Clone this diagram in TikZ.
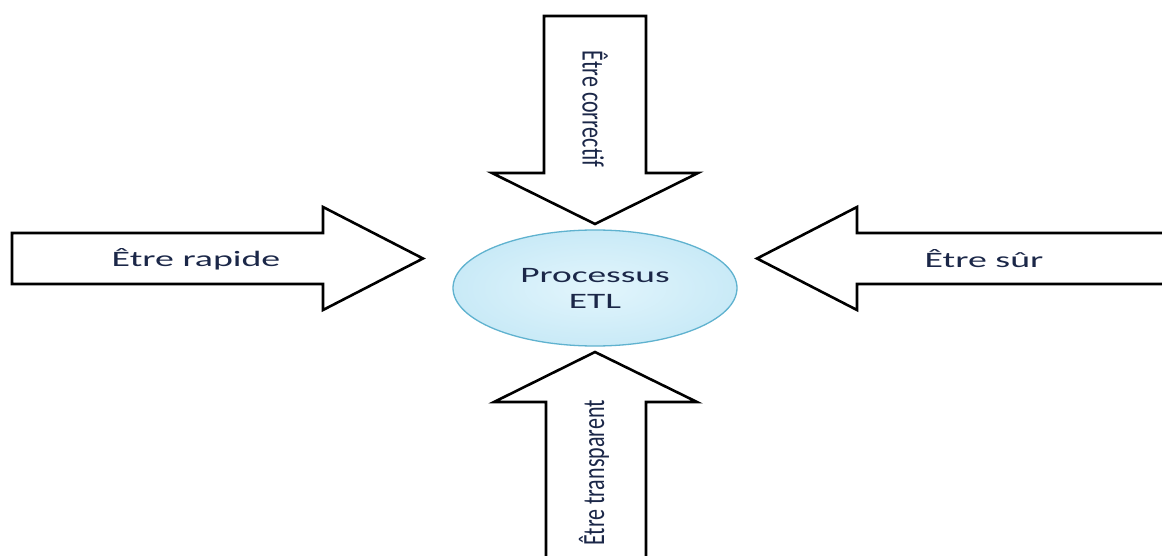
\documentclass[tikz,border=0pt]{standalone}
\usepackage{fontspec}
\setmainfont{Carlito}
\usetikzlibrary{shapes.geometric}
\definecolor{labelink}{HTML}{1B2748}
\definecolor{etlfill}{HTML}{C9EAF7}
\definecolor{etlfilllight}{HTML}{E2F5FC}
\definecolor{etlborder}{HTML}{5FB2CF}
\tikzset{
  bigarrow/.style={draw=black, line width=2.6pt, fill=white, line join=miter},
  hlabel/.style={text=labelink, inner sep=0pt, font=\fontsize{22}{27}\selectfont},
  vlabel/.style={text=labelink, inner sep=0pt, font=\fontsize{22}{27}\selectfont},
  processnode/.style={ellipse, draw=etlborder, line width=1.3pt,
    inner color=etlfilllight, outer color=etlfill,
    minimum width=284pt, minimum height=116pt, inner sep=0pt,
    text=labelink, align=center, font=\fontsize{22}{27}\selectfont}
}
\begin{document}
\begin{tikzpicture}[x=1pt, y=-1pt]
  \useasboundingbox (0,0) rectangle (1162,556);
  \clip (0,0) rectangle (1162,556);
  \fill[white] (0,0) rectangle (1162,556);

  % block arrows pointing at the process
  \draw[bigarrow] (12,233) -- (323,233) -- (323,207) -- (423,258.5)
    -- (323,310) -- (323,284) -- (12,284) -- cycle;
  \draw[bigarrow] (1180,233) -- (857,233) -- (857,207) -- (757,258.5)
    -- (857,310) -- (857,284) -- (1180,284) -- cycle;
  \draw[bigarrow] (544,16) -- (646,16) -- (646,173) -- (698,173)
    -- (595,224) -- (492,173) -- (544,173) -- cycle;
  \draw[bigarrow] (595,352) -- (697,402) -- (646,402) -- (646,580)
    -- (546,580) -- (546,402) -- (494,402) -- cycle;

  % central process
  \node[processnode] (etl) at (595,288)
    {\scalebox{1.7}[1]{Processus}\\[-1pt]\scalebox{1.7}[1]{ETL}};

  % arrow labels
  \node[hlabel] (rapide) at (196,259) {\scalebox{1.72}[1]{Être rapide}};
  \node[hlabel] (sur) at (984,259) {\scalebox{1.72}[1]{Être sûr}};
  \node[vlabel, rotate=-90] (correctif) at (595,109)
    {\scalebox{1}[1.4]{Être correctif}};
  \node[vlabel, rotate=90] (transparent) at (594,473)
    {\scalebox{1}[1.4]{Être transparent}};
\end{tikzpicture}
\end{document}
